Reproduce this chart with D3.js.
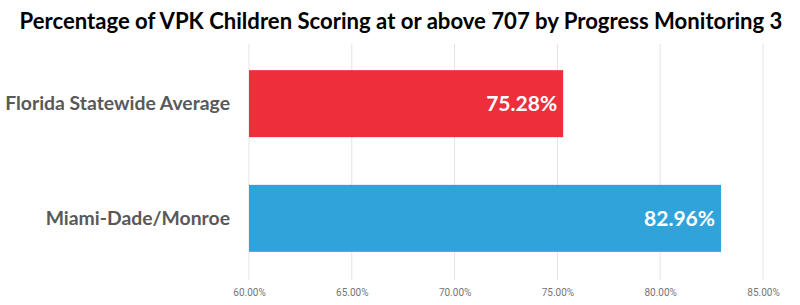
<!DOCTYPE html>
<html>
<head>
<meta charset="utf-8">
<script src="https://cdn.jsdelivr.net/npm/d3@7"></script>
<style>
  body { margin: 0; background: #fff; }
  svg { display: block; }
</style>
</head>
<body>
<div id="chart"></div>
<script>
const title = 'Percentage of VPK Children Scoring at or above 707 by Progress Monitoring 3'
const categories = ['Florida Statewide Average', 'Miami-Dade/Monroe']
const values = [75.28, 82.96]
const colors = ['#EF2E3C', '#31A3DB']
const ticks = [60, 65, 70, 75, 80, 85]

const width = 800
const height = 305

const svg = d3.select('#chart')
  .append('svg')
  .attr('width', width)
  .attr('height', height)

// shrink a font size so that a text takes the wanted width (Calibri is not installed)
function fitSize (sel, size, wanted) {
  sel.style('font-size', size + 'px')
  const w = sel.node().getComputedTextLength()
  const s = size * wanted / w
  return s
}

const xScale = d3.scaleLinear()
  .domain([60, 85])
  .range([249, 763])

const yScale = d3.scaleBand()
  .domain(categories)
  .range([44, 278])
  .paddingInner(0.416)
  .paddingOuter(0.228)

// gridlines
svg.append('g')
  .selectAll('line')
  .data(ticks)
  .enter().append('line')
  .attr('x1', d => xScale(d))
  .attr('x2', d => xScale(d))
  .attr('y1', 44)
  .attr('y2', 280)
  .attr('stroke', '#e3e3e3')
  .attr('stroke-width', 1)

// x axis labels
const xAxis = d3.axisBottom(xScale)
  .tickValues(ticks)
  .tickSize(0)
  .tickPadding(0)
  .tickFormat(d => d.toFixed(2) + '%')

svg.append('g')
  .attr('class', 'x-axis')
  .attr('transform', 'translate(0,289)')
  .call(xAxis)
  .call(g => g.select('.domain').remove())
  .selectAll('text')
  .attr('fill', '#757575')
  .style('font-family', 'Roboto, sans-serif')
  .style('font-size', '10px')

// bars
svg.selectAll('.bar')
  .data(values)
  .enter().append('rect')
  .attr('class', 'bar')
  .attr('x', xScale(60))
  .attr('y', (d, i) => yScale(categories[i]))
  .attr('width', d => xScale(d) - xScale(60))
  .attr('height', yScale.bandwidth())
  .attr('fill', (d, i) => colors[i])

// value labels
const valueLabels = svg.selectAll('.value')
  .data(values)
  .enter().append('text')
  .attr('class', 'value')
  .attr('x', d => xScale(d) - 6)
  .attr('y', (d, i) => yScale(categories[i]) + yScale.bandwidth() / 2)
  .attr('dy', '0.35em')
  .attr('text-anchor', 'end')
  .attr('fill', '#fff')
  .style('font-family', 'Lato, sans-serif')
  .style('font-weight', 'bold')
  .text(d => d.toFixed(2) + '%')
const valueSize = fitSize(valueLabels.filter((d, i) => i === 0), 22, 71)
valueLabels.style('font-size', valueSize + 'px')

// category labels
const catLabels = svg.selectAll('.cat')
  .data(categories)
  .enter().append('text')
  .attr('class', 'cat')
  .attr('x', 230)
  .attr('y', d => yScale(d) + yScale.bandwidth() / 2)
  .attr('dy', '0.35em')
  .attr('text-anchor', 'end')
  .attr('fill', '#595959')
  .style('font-family', 'Lato, sans-serif')
  .style('font-weight', 'bold')
  .text(d => d)
const catSize = fitSize(catLabels.filter((d, i) => i === 0), 20, 225)
catLabels.style('font-size', catSize + 'px')

// title
const titleText = svg.append('text')
  .attr('x', 401)
  .attr('y', 29)
  .attr('text-anchor', 'middle')
  .attr('fill', '#000')
  .style('font-family', 'Lato, sans-serif')
  .style('font-weight', 'bold')
  .text(title)
titleText.style('font-size', fitSize(titleText, 23, 763) + 'px')
</script>
</body>
</html>
